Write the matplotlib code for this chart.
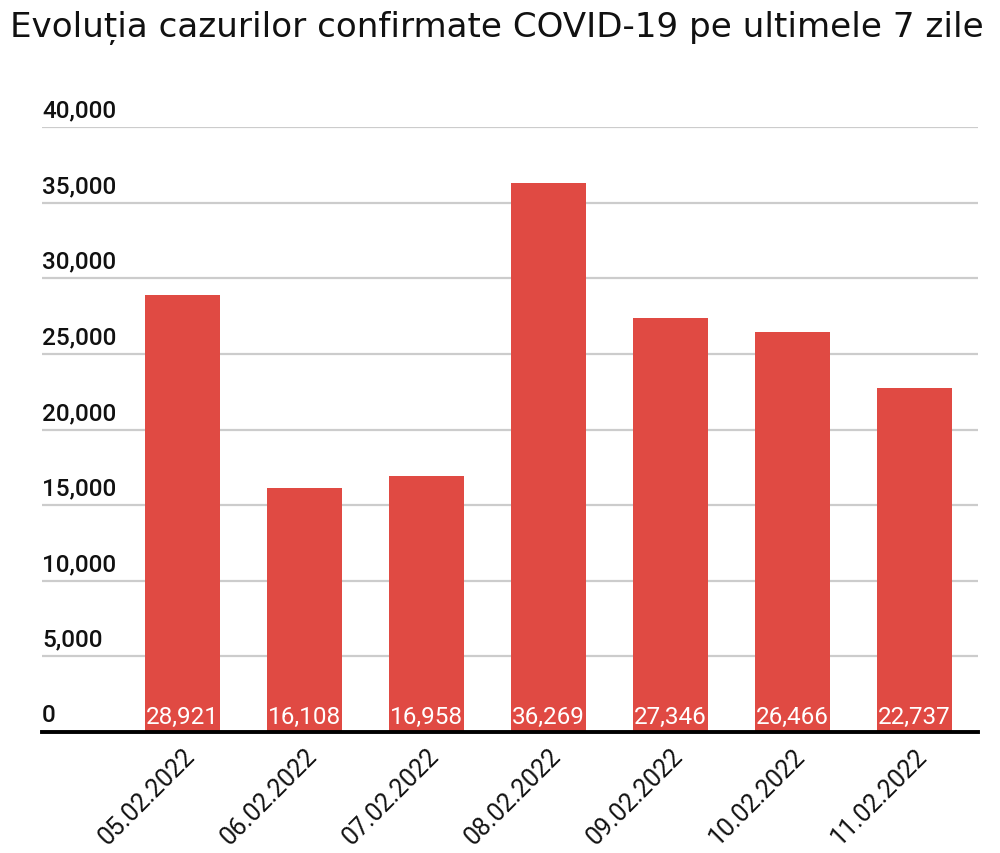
import matplotlib.pyplot as plt
import matplotlib.transforms as mtransforms

plt.rcParams['font.family'] = ['Roboto', 'DejaVu Sans']

dates = ['05.02.2022', '06.02.2022', '07.02.2022', '08.02.2022',
         '09.02.2022', '10.02.2022', '11.02.2022']
cases = [28921, 16108, 16958, 36269, 27346, 26466, 22737]
yticks = [0, 5000, 10000, 15000, 20000, 25000, 30000, 35000, 40000]

fig = plt.figure(figsize=(10, 8.54), dpi=100)
ax = fig.add_axes([0.042, 0.1417, 0.936, 0.7084])

x = list(range(len(dates)))
ax.bar(x, cases, width=0.615, color='#E04A43', zorder=2)

ax.set_xlim(-1.15, 6.52)
ax.set_ylim(0, 40000)
ax.set_yticks(yticks)
ax.yaxis.grid(True, color='#cccccc', linewidth=1.6, zorder=0)
ax.tick_params(axis='y', length=0, labelleft=False)
ax.tick_params(axis='x', length=0, pad=8)
ax.set_xticks(x)
ax.set_xticklabels(dates, rotation=45, ha='right', rotation_mode='anchor',
                   fontsize=18, color='#111111')
for s in ['top', 'right', 'left']:
    ax.spines[s].set_visible(False)
ax.spines['bottom'].set_linewidth(2.8)
ax.spines['bottom'].set_zorder(3)

# y labels sit above the gridlines at the left edge
trans = mtransforms.blended_transform_factory(ax.transAxes, ax.transData)
for v in yticks:
    ax.annotate(f'{v:,}', (0.0, v), xycoords=trans, xytext=(0, 4),
                textcoords='offset points', ha='left', va='bottom',
                fontsize=17.5, fontweight='medium', color='#111111')

# value labels inside the bars
for xi, v in zip(x, cases):
    ax.annotate(f'{v:,}', (xi, 0), xytext=(0, 3), textcoords='offset points',
                ha='center', va='bottom', color='white',
                fontsize=17.5, zorder=4)

fig.text(0.010, 0.967, 'Evoluția cazurilor confirmate COVID-19 pe ultimele 7 zile',
         ha='left', va='center', fontsize=24.6, color='#111111',
         family=['DejaVu Sans'])

fig.savefig('out.png', dpi=100)
